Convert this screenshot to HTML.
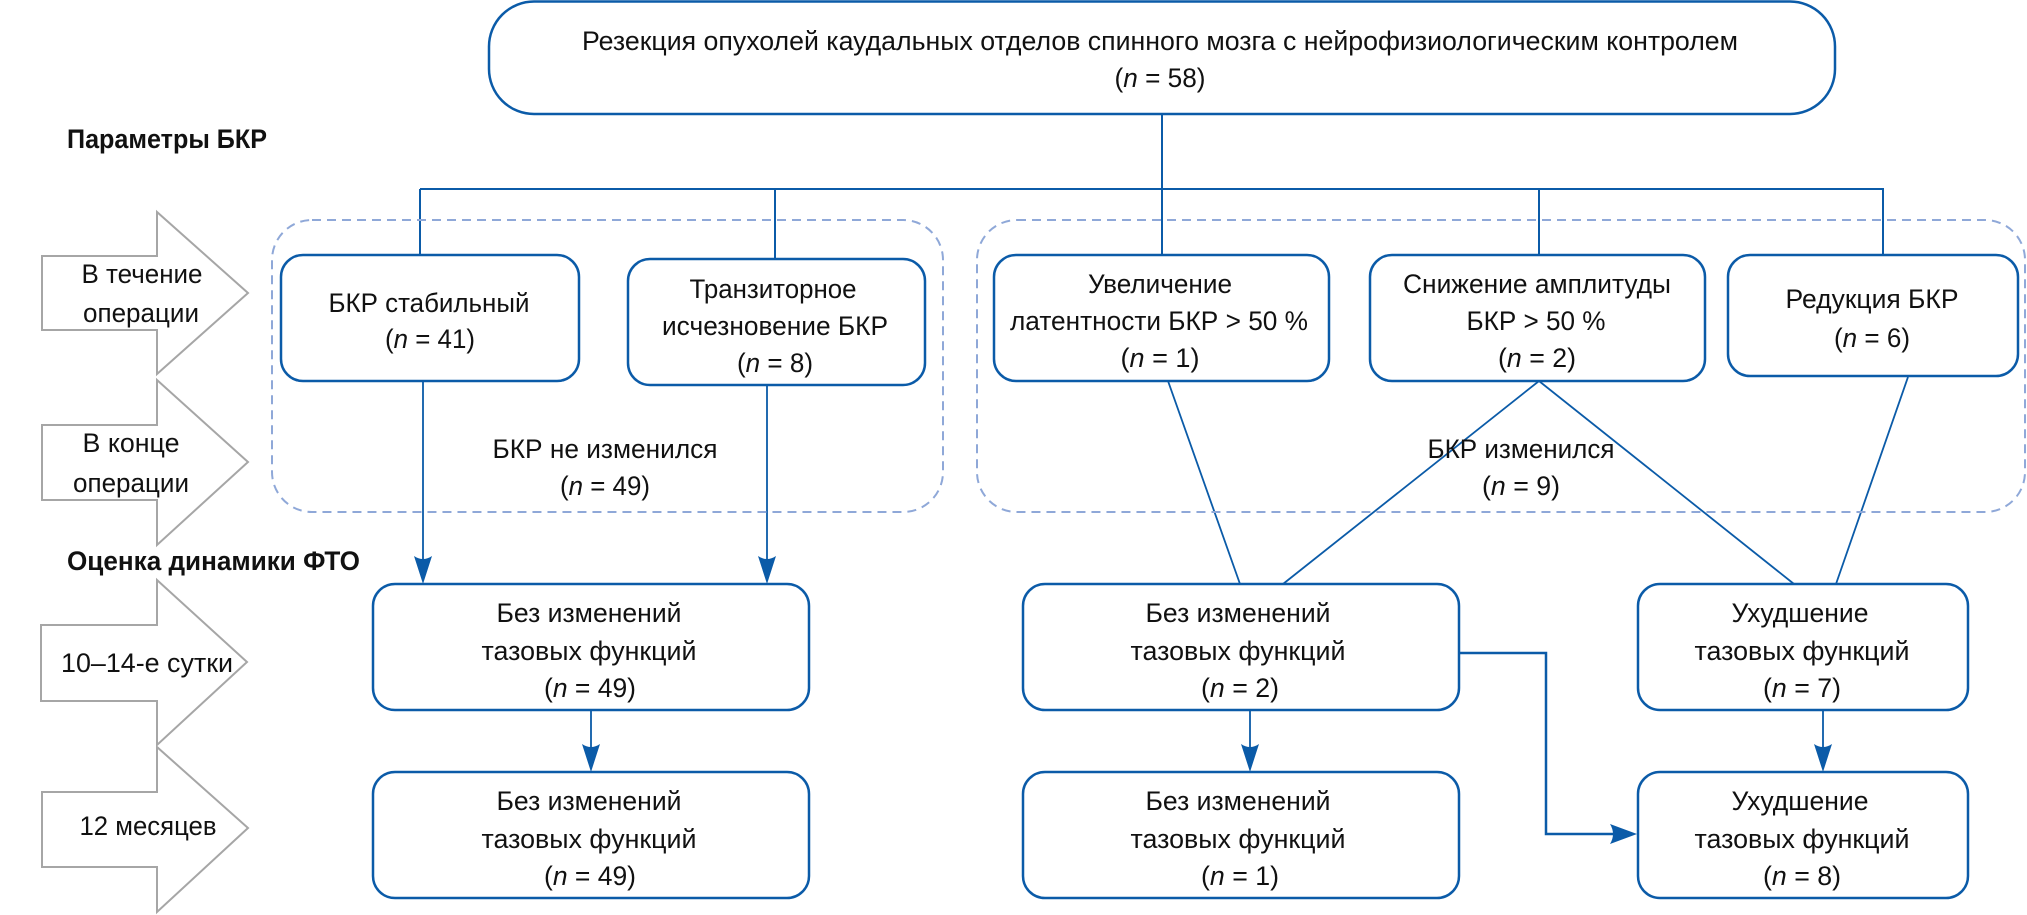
<!DOCTYPE html>
<html><head><meta charset="utf-8"><style>html,body{margin:0;padding:0;background:#fff}svg{display:block}text{font-family:"Liberation Sans",sans-serif;font-size:27px;fill:#111}</style></head>
<body>
<svg width="2027" height="915" viewBox="0 0 2027 915" xmlns="http://www.w3.org/2000/svg">
<g fill="none" stroke="#0b5ba8">
<rect x="489" y="1.5" width="1346" height="112.5" rx="45" stroke-width="2.5"/>
<path d="M1162 114 V189 M420 189 H1883 V255 M420 189 V255 M775 189 V259 M1162 189 V255 M1539 189 V255" stroke-width="2"/>
<rect x="281" y="255" width="298" height="126" rx="22" stroke-width="2.5"/>
<rect x="628" y="259" width="297" height="126" rx="22" stroke-width="2.5"/>
<rect x="994" y="255" width="335" height="126" rx="22" stroke-width="2.5"/>
<rect x="1370" y="255" width="335" height="126" rx="22" stroke-width="2.5"/>
<rect x="1728" y="255" width="290" height="121" rx="22" stroke-width="2.5"/>
<rect x="373" y="584" width="436" height="126" rx="22" stroke-width="2.5"/>
<rect x="373" y="772" width="436" height="126" rx="22" stroke-width="2.5"/>
<rect x="1023" y="584" width="436" height="126" rx="22" stroke-width="2.5"/>
<rect x="1023" y="772" width="436" height="126" rx="22" stroke-width="2.5"/>
<rect x="1638" y="584" width="330" height="126" rx="22" stroke-width="2.5"/>
<rect x="1638" y="772" width="330" height="126" rx="22" stroke-width="2.5"/>
<path d="M423 381 V565 M767 385 V565 M591 710 V752 M1250 710 V752 M1823 710 V752" stroke-width="1.8"/>
<path d="M1168 381 L1240 584 M1539 381 L1283 584 M1539 381 L1794 584 M1908 377 L1836 584" stroke-width="1.8"/>
<path d="M1459 653 H1546 V834 H1618" stroke-width="2.5"/>
</g>
<g fill="#0b5ba8">
<path d="M414 556 Q423 562 432 556 L423 584 Z"/>
<path d="M758 556 Q767 562 776 556 L767 584 Z"/>
<path d="M582 744 Q591 750 600 744 L591 772 Z"/>
<path d="M1241 744 Q1250 750 1259 744 L1250 772 Z"/>
<path d="M1814 744 Q1823 750 1832 744 L1823 772 Z"/>
<path d="M1610 824 L1637 834 L1610 844 Q1616 834 1610 824 Z"/>
</g>
<g fill="none" stroke="#8fa8d8" stroke-width="2" stroke-dasharray="9 6">
<rect x="272" y="220" width="671" height="292" rx="40"/>
<rect x="977" y="220" width="1048" height="292" rx="40"/>
</g>
<g fill="#fff" stroke="#a6a6a6" stroke-width="2">
<path d="M42 256 H157 V212 L248 293 L157 374 V330 H42 Z"/>
<path d="M42 425 H157 V380 L248 462 L157 545 V500 H42 Z"/>
<path d="M41 625 H157 V580 L247 662 L157 745 V701 H41 Z"/>
<path d="M42 792 H157 V747 L248 828 L157 912 V867 H42 Z"/>
</g>
<g text-anchor="middle">
<text x="1160" y="50" textLength="1156" lengthAdjust="spacingAndGlyphs">Резекция опухолей каудальных отделов спинного мозга с нейрофизиологическим контролем</text>
<text x="1160" y="87" textLength="91" lengthAdjust="spacingAndGlyphs">(<tspan font-style="italic">n</tspan> = 58)</text>
<text x="429" y="312" textLength="201" lengthAdjust="spacingAndGlyphs">БКР стабильный</text>
<text x="430" y="348" textLength="90" lengthAdjust="spacingAndGlyphs">(<tspan font-style="italic">n</tspan> = 41)</text>
<text x="773" y="298" textLength="167" lengthAdjust="spacingAndGlyphs">Транзиторное</text>
<text x="775" y="335" textLength="226" lengthAdjust="spacingAndGlyphs">исчезновение БКР</text>
<text x="775" y="372" textLength="76" lengthAdjust="spacingAndGlyphs">(<tspan font-style="italic">n</tspan> = 8)</text>
<text x="1160" y="293" textLength="144" lengthAdjust="spacingAndGlyphs">Увеличение</text>
<text x="1159" y="330" textLength="298" lengthAdjust="spacingAndGlyphs">латентности БКР &gt; 50 %</text>
<text x="1160" y="367" textLength="79" lengthAdjust="spacingAndGlyphs">(<tspan font-style="italic">n</tspan> = 1)</text>
<text x="1537" y="293" textLength="268" lengthAdjust="spacingAndGlyphs">Снижение амплитуды</text>
<text x="1536" y="330" textLength="139" lengthAdjust="spacingAndGlyphs">БКР &gt; 50 %</text>
<text x="1537" y="367" textLength="78" lengthAdjust="spacingAndGlyphs">(<tspan font-style="italic">n</tspan> = 2)</text>
<text x="1872" y="308" textLength="173" lengthAdjust="spacingAndGlyphs">Редукция БКР</text>
<text x="1872" y="347" textLength="76" lengthAdjust="spacingAndGlyphs">(<tspan font-style="italic">n</tspan> = 6)</text>
<text x="605" y="458" textLength="225" lengthAdjust="spacingAndGlyphs">БКР не изменился</text>
<text x="605" y="495" textLength="90" lengthAdjust="spacingAndGlyphs">(<tspan font-style="italic">n</tspan> = 49)</text>
<text x="1521" y="458" textLength="187" lengthAdjust="spacingAndGlyphs">БКР изменился</text>
<text x="1521" y="495" textLength="78" lengthAdjust="spacingAndGlyphs">(<tspan font-style="italic">n</tspan> = 9)</text>
<text x="589" y="622" textLength="185" lengthAdjust="spacingAndGlyphs">Без изменений</text>
<text x="589" y="660" textLength="215" lengthAdjust="spacingAndGlyphs">тазовых функций</text>
<text x="590" y="697" textLength="92" lengthAdjust="spacingAndGlyphs">(<tspan font-style="italic">n</tspan> = 49)</text>
<text x="589" y="810" textLength="185" lengthAdjust="spacingAndGlyphs">Без изменений</text>
<text x="589" y="848" textLength="215" lengthAdjust="spacingAndGlyphs">тазовых функций</text>
<text x="590" y="885" textLength="92" lengthAdjust="spacingAndGlyphs">(<tspan font-style="italic">n</tspan> = 49)</text>
<text x="1238" y="622" textLength="185" lengthAdjust="spacingAndGlyphs">Без изменений</text>
<text x="1238" y="660" textLength="215" lengthAdjust="spacingAndGlyphs">тазовых функций</text>
<text x="1240" y="697" textLength="78" lengthAdjust="spacingAndGlyphs">(<tspan font-style="italic">n</tspan> = 2)</text>
<text x="1238" y="810" textLength="185" lengthAdjust="spacingAndGlyphs">Без изменений</text>
<text x="1238" y="848" textLength="215" lengthAdjust="spacingAndGlyphs">тазовых функций</text>
<text x="1240" y="885" textLength="78" lengthAdjust="spacingAndGlyphs">(<tspan font-style="italic">n</tspan> = 1)</text>
<text x="1800" y="622" textLength="137" lengthAdjust="spacingAndGlyphs">Ухудшение</text>
<text x="1802" y="660" textLength="215" lengthAdjust="spacingAndGlyphs">тазовых функций</text>
<text x="1802" y="697" textLength="78" lengthAdjust="spacingAndGlyphs">(<tspan font-style="italic">n</tspan> = 7)</text>
<text x="1800" y="810" textLength="137" lengthAdjust="spacingAndGlyphs">Ухудшение</text>
<text x="1802" y="848" textLength="215" lengthAdjust="spacingAndGlyphs">тазовых функций</text>
<text x="1802" y="885" textLength="78" lengthAdjust="spacingAndGlyphs">(<tspan font-style="italic">n</tspan> = 8)</text>
<text x="142" y="283" textLength="121" lengthAdjust="spacingAndGlyphs">В течение</text>
<text x="141" y="322" textLength="116" lengthAdjust="spacingAndGlyphs">операции</text>
<text x="131" y="452" textLength="97" lengthAdjust="spacingAndGlyphs">В конце</text>
<text x="131" y="492" textLength="116" lengthAdjust="spacingAndGlyphs">операции</text>
<text x="147" y="672" textLength="172" lengthAdjust="spacingAndGlyphs">10–14-е сутки</text>
<text x="148" y="835" textLength="137" lengthAdjust="spacingAndGlyphs">12 месяцев</text>
</g>
<text x="67" y="148" font-weight="bold" textLength="200" lengthAdjust="spacingAndGlyphs">Параметры БКР</text>
<text x="67" y="570" font-weight="bold" textLength="293" lengthAdjust="spacingAndGlyphs">Оценка динамики ФТО</text>
</svg>
</body></html>
